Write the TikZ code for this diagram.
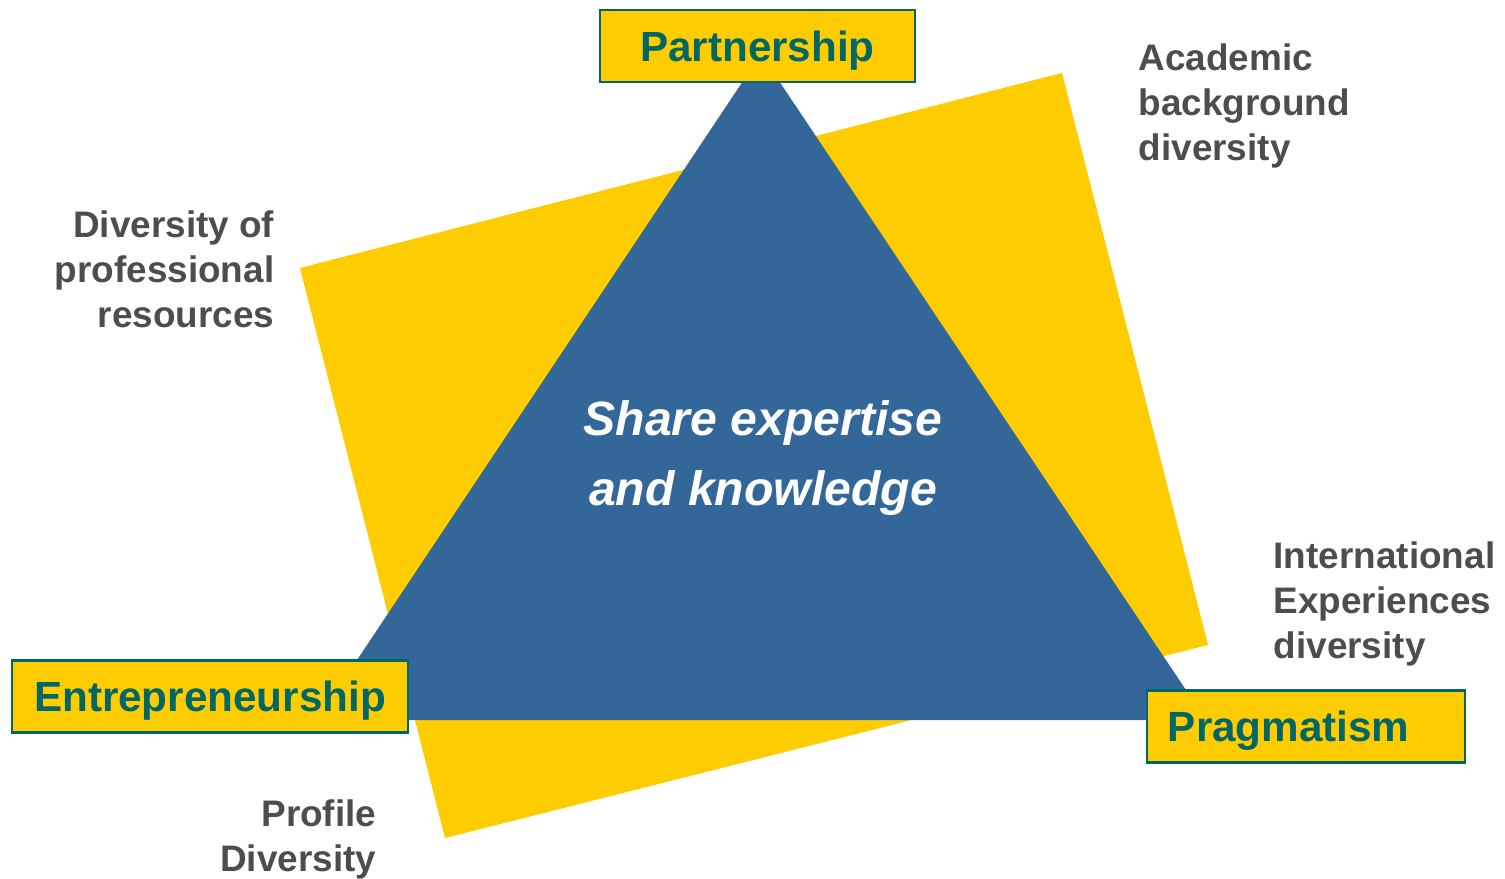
\documentclass[tikz,border=0pt]{standalone}
\usepackage{fontspec}
\setmainfont{Liberation Sans}
\definecolor{gold}{HTML}{FFCC00}
\definecolor{steel}{HTML}{336699}
\definecolor{darkteal}{HTML}{006666}
\definecolor{labelgray}{HTML}{4D4D4D}
\begin{document}
\begin{tikzpicture}[x=0.01cm, y=-0.01cm,
    pillar/.style={draw=darkteal, line width=0.6pt, fill=gold, text=darkteal,
      font=\fontsize{12}{14}\bfseries, minimum height=0.72cm,
      text height=8.8pt, text depth=0pt, inner sep=0pt},
    facet/.style={text=labelgray, font=\fontsize{10.5}{12.76}\bfseries, inner sep=0pt}]
  \useasboundingbox (0,0) rectangle (1505,879);
  \fill [gold] (300,268) -- (1062,73) -- (1208,645) -- (445,838) -- cycle;
  \fill [steel] (761,54) -- (1206,720) -- (317,720) -- cycle;
  \node [text=white, font=\fontsize{13.7}{19.8}\bfseries\itshape, align=center,
    anchor=north, inner sep=0pt] (core) at (763,400) {Share expertise\\and knowledge};
  \node [pillar, minimum width=3.15cm] (partner) at (757.5,46) {Partnership};
  \node [pillar, minimum width=3.96cm] (entre) at (210,696.5) {Entrepreneurship};
  \node [pillar, text width=2.76cm, align=left, inner xsep=0.21cm] (pragma) at (1306,726.5) {Pragmatism};
  \node [facet, anchor=north west, align=left] (academic) at (1138,43.5) {Academic\\background\\diversity};
  \node [facet, anchor=north east, align=right] (profres) at (275,210.5) {Diversity of\\professional\\resources};
  \node [facet, anchor=north west, align=left] (intl) at (1273,541) {International\\Experiences\\diversity};
  \node [facet, anchor=north east, align=right] (profile) at (377,799) {Profile\\Diversity};
\end{tikzpicture}
\end{document}
